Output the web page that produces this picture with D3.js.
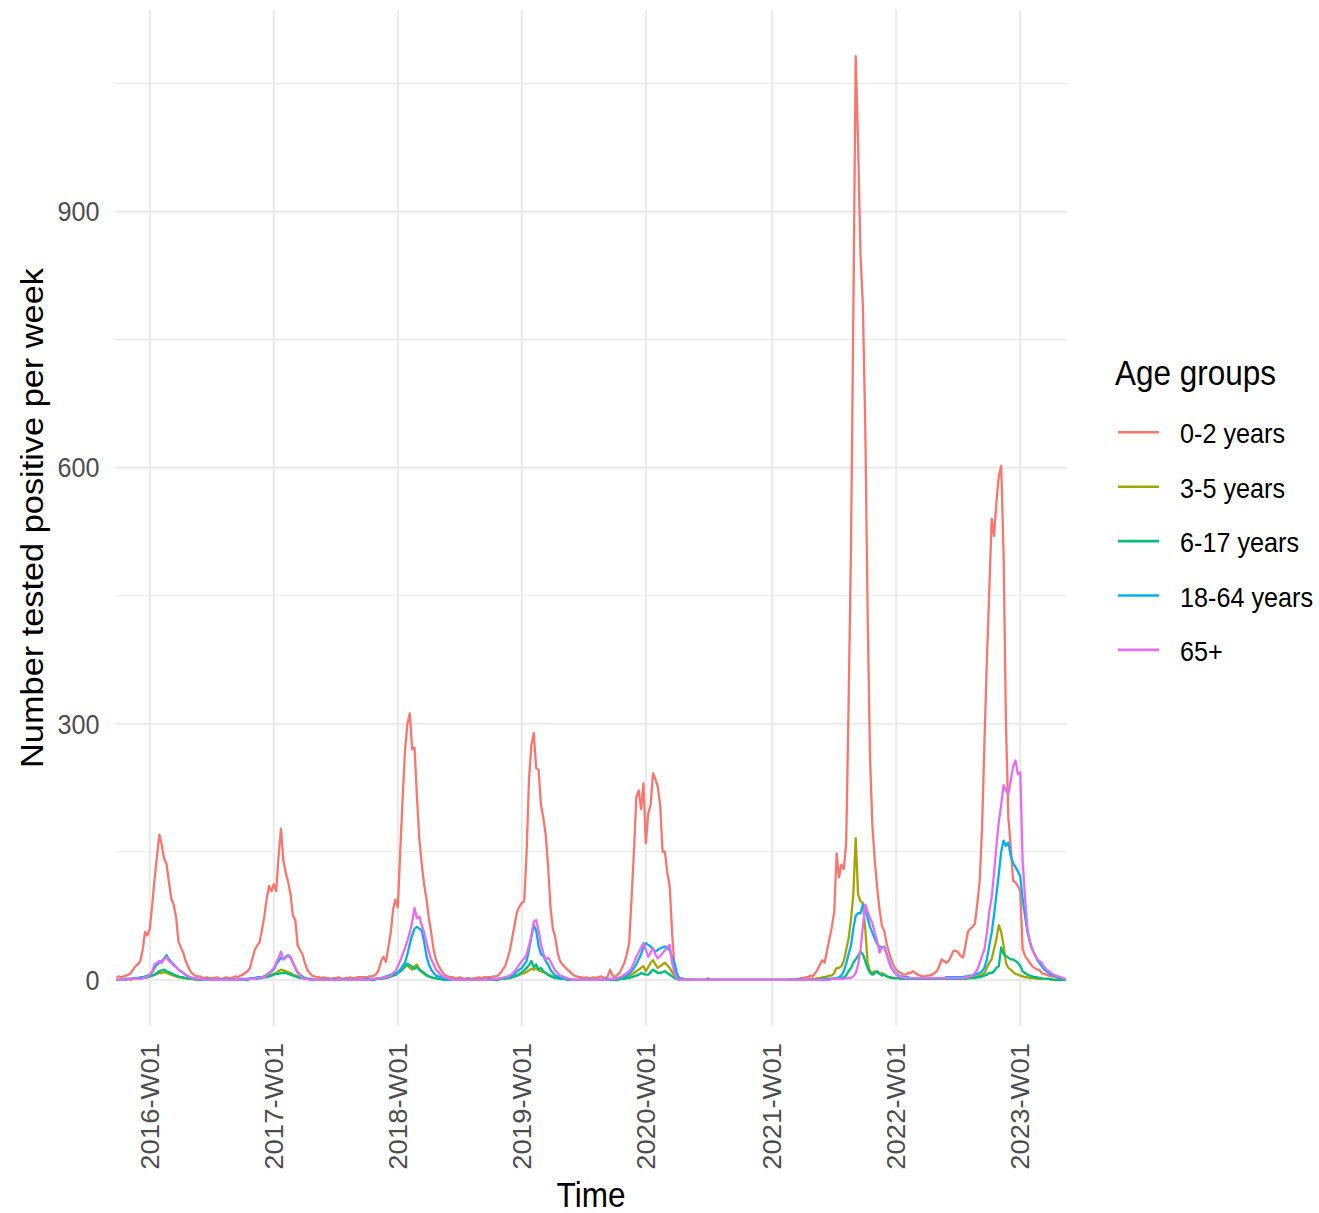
<!DOCTYPE html>
<html>
<head>
<meta charset="utf-8">
<script src="https://cdn.jsdelivr.net/npm/d3@7"></script>
<style>
  html, body { margin: 0; padding: 0; background: #fff; }
  svg { display: block; }
  text { font-family: "Liberation Sans", Arial, sans-serif; }
</style>
</head>
<body>
<svg id="chart" width="1319" height="1213"></svg>
<script>
// ISO week ranges covered by the data: [year, first week, last week]
const isoYearSpans = [[2015,40,53],[2016,1,52],[2017,1,52],[2018,1,52],[2019,1,52],[2020,1,53],[2021,1,52],[2022,1,52],[2023,1,20]];

const groupNames = ["0-2 years","3-5 years","6-17 years","18-64 years","65+"];
const groupColors = ["#F8766D","#A3A500","#00BF7D","#00B0F6","#E76BF3"];

const xTickLabels = ["2016-W01","2017-W01","2018-W01","2019-W01","2020-W01","2021-W01","2022-W01","2023-W01"];
const yMajorTicks = [0,300,600,900];
const yMinorTicks = [150,450,750,1050];

// weekly counts, one inner array per ISO year (2015 from W40, 2023 up to W20)
const age0_2 = [
 [3,4,3,4,5,6,8,12,16,18,22,35,56,52],
 [60,88,118,145,170,158,142,136,115,95,88,74,45,38,32,22,16,10,7,5,4,4,3,2,3,2,2, 2,3,2,1,2,3,2,2,3,4,3, 5,6,8,10,14,25,35,40,44,58,74,95,110,104],
 [112,104,145,177,140,125,115,100,75,70,40,35,30,20,12,8,5,4,3, 3,2,3,2,2,1,2,2,3,2,1,2,2,3,2,2,3,3,3, 3,3,4,4,5,7,12,22,27,21,38,55,82,94],
 [85,150,212,268,300,312,270,272,215,165,136,112,95,72,55,35,24,17,12,8,5,4,3, 3,2,2,3,2,1,2,2,1,2,2,3,2,3,3, 3,3,4,4,5,8,12,16,25,35,50,65,80,86],
 [90,92,150,235,275,289,248,246,205,190,170,133,85,60,50,32,22,18,15,12,10,7,5, 4,3,3,2,3,2,2,3,2,3,4,3, 2,4,12,5,3,6,8,14,20,30,43,95,150,214,222,200,230],
 [160,195,205,242,235,226,205,150,150,125,110,55,15,5,2,2, 1,0,1,0,0,0,0,0,0,0,2,0,0,0,0,0,0,0,0,0,0,0,0,0,0,0,0,0,0,0,0,0,0,0,0,0,0],
 [0,0,0,0,0,0,0,0,1,0,1,1,2, 2,3,3,5,4,8,12,18,23,20,35,48,62,80,148,120,135,130,160,320,500,780,1082,980,850,790,650,430,260,180,140,108,82,63,57,42,32,23,16],
 [12,9,8,6,6,8,8,10,8,6,5,4,4,5,5,6,8,10,16,24,22,20,22,28,34,34,32,28,26,40,56,60,62,66,90,116,180,280,375,455,540,520,560,590,602,500,300,190,157,116,114,110],
 [104,36,28,24,20,16,14,12,12,8,7,6,5,4,4,3,2,2,1,1]
].flat();

const age3_5 = [
 [0,0,0,0,0,1,0,1,1,1,2,2,3,3],
 [4,5,6,7,8,8,9,8,7,6,5,4,3,3,2,2,1,1,1,0,1,0,0,0,0,0,0, 0,0,0,0,0,0,0,0,0,0,0, 0,0,0,1,1,1,2,2,3,3,4,5,6,6],
 [7,8,10,12,11,10,9,8,6,5,4,3,2,2,1,1,1,0,0, 0,0,0,0,0,0,0,0,0,0,0,0,0,0,0,0,0,0,0, 0,0,0,0,0,1,1,1,2,2,3,4,5,6],
 [8,10,12,15,17,14,12,16,18,12,9,7,5,4,3,2,2,1,1,1,0,0,0, 0,0,0,0,0,0,0,0,0,0,0,0,0,0,0, 0,0,0,0,0,1,1,1,2,2,3,4,5,6],
 [7,8,9,11,13,12,14,11,10,9,8,6,5,4,3,2,2,1,1,1,0,0,0, 0,0,0,0,0,0,0,0,0,0,0,0, 0,0,0,0,0,0,1,1,2,3,4,6,8,10,12,14,16],
 [10,15,20,23,18,14,16,18,20,17,14,9,5,2,0,0, 0,0,0,0,0,0,0,0,0,0,0,0,0,0,0,0,0,0,0,0,0,0,0,0,0,0,0,0,0,0,0,0,0,0,0,0,0],
 [0,0,0,0,0,0,0,0,0,0,0,0,0, 0,0,0,1,1,1,2,2,3,3,4,5, 5,8,14,14,16,22,35,48,70,100,166,100,92,90,60,20,10,8,10,9,7,8,6,4,3,3,2],
 [2,2,1,1,1,1,1,1,1,1,1,1,1,1,1,1,1,1,1,1,1,1,2,2,2,2,2,2,2,2,2,2,3, 3,4,5,6,8,14,20,24,36,48,64,56,40,20,14,12,9,7,6],
 [5,4,3,3,2,2,2,1,1,1,1,1,1,0,0,0,0,0,0,0]
].flat();

const age6_17 = [
 [0,0,0,0,1,1,1,1,1,2,2,2,3,3],
 [4,5,6,8,10,11,12,10,9,8,6,5,4,3,3,2,2,1,1,1,0,0,0,0,0,0,0, 0,0,0,0,0,0,0,0,0,0,0, 0,0,0,0,1,1,1,1,2,2,3,3,4,5],
 [6,7,7,8,8,8,7,6,5,4,3,2,2,1,1,1,0,0,0, 0,0,0,0,0,0,0,0,0,0,0,0,0,0,0,0,0,0,0, 0,0,0,0,0,1,1,1,2,2,3,4,5,6],
 [8,10,13,16,19,17,15,13,15,12,10,8,6,4,3,2,2,1,1,0,0,0,0, 0,0,0,0,0,0,0,0,0,0,0,0,0,0,0, 0,0,0,0,0,1,1,1,2,2,3,4,5,7],
 [9,11,14,17,22,15,18,12,14,10,8,6,4,3,2,2,1,1,1,0,0,0,0, 0,0,0,0,0,0,0,0,0,0,0,0, 0,0,0,0,0,0,1,1,1,2,2,3,4,5,6,8,7],
 [6,6,9,12,10,8,8,9,10,8,6,4,2,1,0,0, 0,0,0,0,0,0,0,0,0,0,0,0,0,0,0,0,0,0,0,0,0,0,0,0,0,0,0,0,0,0,0,0,0,0,0,0,0],
 [0,0,0,0,0,0,0,0,0,0,0,0,0, 0,0,0,0,0,0,0,0,1,1,1,1,1,1,2,2, 2,3,5,10,14,20,24,28,33,30,22,14,8,6,8,10,7,5,6,4,3,2,2],
 [2,2,1,1,1,1,1,1,1,1,1,1,1,1,1,1,1,1,1,1,1,1,1,1,1,1,1,1,1,1,2,2,2, 2,3,3,4,5,6,8,8,10,14,16,38,30,28,26,24,24,22,20],
 [16,10,8,6,5,4,3,3,2,2,1,1,1,1,0,0,0,0,0,0]
].flat();

const age18_64 = [
 [0,0,0,0,1,1,1,2,2,2,3,3,4,5],
 [6,9,14,18,20,22,25,29,24,21,18,15,12,10,8,6,4,3,2,2,1,1,1,0,1,0,0, 0,0,0,0,1,0,0,0,1,0,0, 1,1,1,1,2,2,2,3,3,3,4,6,8,10],
 [12,18,22,26,24,27,29,26,20,14,9,6,4,2,1,1,0,0,0, 0,0,0,0,0,0,0,0,0,0,0,0,0,0,0,0,0,0,0, 1,1,1,1,1,2,2,2,3,4,5,6,7,8],
 [8,12,16,20,30,42,52,60,62,60,58,45,28,18,12,8,5,4,3,2,1,1,0, 0,0,0,0,0,0,0,0,0,0,0,0,0,0,0, 1,1,1,1,1,2,2,3,3,4,5,7,10,12],
 [14,18,22,35,50,64,58,40,30,28,22,18,12,8,5,4,3,2,2,1,1,0,0, 0,0,0,0,0,0,0,0,0,0,0,0, 1,1,1,1,1,2,2,3,4,5,7,10,14,18,24,30,38],
 [43,41,39,36,33,35,37,38,39,37,35,26,20,8,2,0, 0,0,0,0,0,0,0,0,0,0,0,0,0,0,0,0,0,0,0,0,0,0,0,0,0,0,0,0,0,0,0,0,0,0,0,0,0],
 [0,0,0,0,0,0,0,0,0,0,0,0,0, 0,0,0,0,0,0,0,0,1,1,1,1,1,2,2, 3,5,10,19,30,40,60,75,78,78,88,85,72,62,55,48,42,39,38,39,30,22,14,10],
 [7,5,4,3,3,3,2,2,2,2,2,2,2,2,2,2,2,2,2,2,2,3,3,3,3,3,3,3, 3,4,4,5,5,6,7,8,10,14,24,40,55,76,100,124,150,163,157,161,145,137,132,127],
 [121,95,75,56,45,36,30,24,20,16,12,10,8,6,5,4,3,2,2,1]
].flat();

const age65plus = [
 [0,0,0,0,0,1,1,1,1,1,1,2,3,4],
 [6,10,18,20,22,20,24,27,22,20,17,15,12,10,8,6,4,3,2,2,1,1,1,0,0,0,0, 0,0,0,0,0,0,0,0,0,0,0, 0,0,1,1,1,1,1,2,2,3,3,5,8,11],
 [14,20,26,33,24,26,28,27,20,14,8,5,2,1,1,0,0,0,0, 0,0,0,0,0,0,0,0,0,0,0,0,0,0,0,0,0,0,0, 0,0,0,1,1,1,2,2,3,3,4,5,8,10],
 [16,22,30,37,46,55,68,84,72,74,64,56,44,33,24,18,12,9,6,4,3,2,1, 0,0,0,0,0,0,0,0,0,0,0,0,0,0,0, 0,0,1,1,1,2,2,3,4,5,7,10,14,18],
 [22,25,30,40,52,68,70,58,42,31,24,26,22,16,11,8,5,4,3,2,1,0,0, 0,0,0,0,0,0,0,0,0,0,0,0, 0,0,1,1,1,2,3,4,6,8,10,14,20,27,32,38,43],
 [35,27,32,37,30,25,28,31,35,38,41,20,8,2,0,0, 0,0,0,0,0,0,0,0,0,0,0,0,0,0,0,0,0,0,0,0,0,0,0,0,0,0,0,0,0,0,0,0,0,0,0,0,0],
 [0,0,0,0,0,0,0,0,0,0,0,0,0, 0,0,0,0,0,0,0,0,0,0,0,0,1,1,1,1,1,1,2,2, 2,4,8,18,35,62,88,80,72,66,55,45,32,38,38,30,20,14,10],
 [6,4,3,3,2,2,2,2,2,2,2,2,2,2,2,2,2,2,2,2,2,2,2,2,2,2,2,2, 2,3,3,4,5,8,12,20,28,36,55,80,96,125,157,185,205,228,222,218,233,250,257,241],
 [243,140,96,60,45,35,30,25,22,20,15,12,10,8,6,5,4,3,2,1]
].flat();

const seriesValues = [age0_2, age3_5, age6_17, age18_64, age65plus];

// ---- categories (ISO week labels) ----
const weeks = [];
isoYearSpans.forEach(([y, a, b]) => { for (let w = a; w <= b; w++) weeks.push(y + "-W" + String(w).padStart(2, "0")); });

// ---- layout ----
const panel = { left: 115, right: 1067, top: 10, bottom: 1026 };
const K = 1.09;          // vertical stretch of the reference's glyphs
const baseFs = 31.5, tickFs = 25.2;

const svg = d3.select("#chart");

const x = d3.scalePoint().domain(weeks).range([panel.left, panel.right]).padding(0.6);
const maxV = d3.max(seriesValues.flat());
const y = d3.scaleLinear().domain([-0.05 * maxV, maxV * 1.05]).range([panel.bottom, panel.top]);

// grid
const grid = svg.append("g");
grid.selectAll(".ymin").data(yMinorTicks).join("line")
  .attr("x1", panel.left).attr("x2", panel.right)
  .attr("y1", d => y(d)).attr("y2", d => y(d))
  .attr("stroke", "#EBEBEB").attr("stroke-width", 1.1);
grid.selectAll(".ymaj").data(yMajorTicks).join("line")
  .attr("x1", panel.left).attr("x2", panel.right)
  .attr("y1", d => y(d)).attr("y2", d => y(d))
  .attr("stroke", "#EBEBEB").attr("stroke-width", 2.2);
grid.selectAll(".xmaj").data(xTickLabels).join("line")
  .attr("x1", d => x(d)).attr("x2", d => x(d))
  .attr("y1", panel.top).attr("y2", panel.bottom)
  .attr("stroke", "#EBEBEB").attr("stroke-width", 2.2);

// lines
const line = d3.line().x((d, i) => x(weeks[i])).y(d => y(d));
svg.append("g").selectAll("path").data(seriesValues).join("path")
  .attr("d", d => line(d))
  .attr("fill", "none")
  .attr("stroke", (d, i) => groupColors[i])
  .attr("stroke-width", 2.3)
  .attr("stroke-linejoin", "round");

// y tick labels
svg.append("g").selectAll("g").data(yMajorTicks).join("g")
  .attr("transform", d => `translate(99.5,${y(d)}) scale(1,${K})`)
  .append("text")
  .attr("text-anchor", "end").attr("y", 0.358 * tickFs)
  .attr("font-size", tickFs).attr("fill", "#4D4D4D")
  .text(d => d);

// x tick labels
svg.append("g").selectAll("g").data(xTickLabels).join("g")
  .attr("transform", d => `translate(${x(d)},1043) rotate(-90) scale(${K},1)`)
  .append("text")
  .attr("text-anchor", "end").attr("y", 0.358 * tickFs)
  .attr("font-size", tickFs).attr("fill", "#4D4D4D")
  .text(d => d);

// axis titles
svg.append("g").attr("transform", `translate(${(panel.left + panel.right) / 2},1207) scale(1,${K})`)
  .append("text").attr("text-anchor", "middle").attr("font-size", baseFs).attr("fill", "#000").text("Time");
svg.append("g").attr("transform", `translate(43,${(panel.top + panel.bottom) / 2}) rotate(-90) scale(${K},1)`)
  .append("text").attr("text-anchor", "middle").attr("font-size", baseFs).attr("fill", "#000").text("Number tested positive per week");

// legend
const lg = svg.append("g");
lg.append("g").attr("transform", `translate(1115,384.5) scale(1,${K})`)
  .append("text").attr("font-size", baseFs).attr("fill", "#000").text("Age groups");
const items = lg.selectAll(".item").data(groupNames).join("g")
  .attr("transform", (d, i) => `translate(0,${432.3 + i * 54.4})`);
items.append("line").attr("x1", 1118).attr("x2", 1159).attr("y1", 0).attr("y2", 0)
  .attr("stroke", (d, i) => groupColors[i]).attr("stroke-width", 2.6);
items.append("g").attr("transform", `translate(1180,11) scale(1,${K})`)
  .append("text").attr("font-size", tickFs).attr("fill", "#000").text(d => d);
</script>
</body>
</html>
